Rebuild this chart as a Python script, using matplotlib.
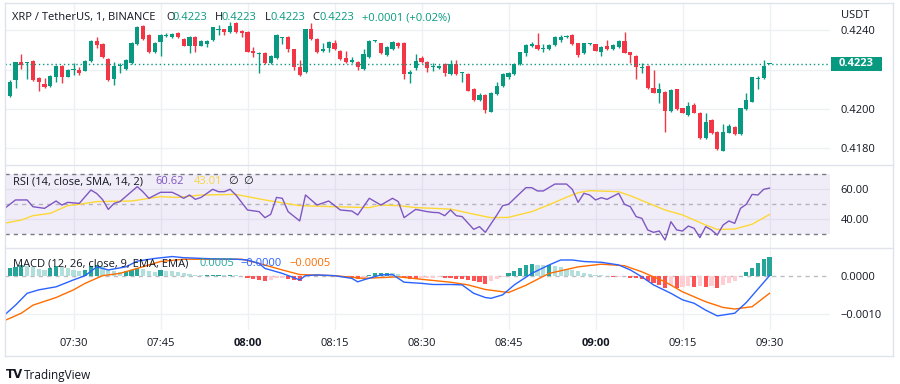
import numpy as np
import matplotlib
matplotlib.use('Agg')
import matplotlib.pyplot as plt
from matplotlib.patches import Rectangle
from matplotlib.transforms import blended_transform_factory
from matplotlib.ticker import FuncFormatter

plt.rcParams['font.family'] = ['Open Sans', 'DejaVu Sans']

# ---------------- data ----------------
first_bar = '07:18'
opens = [0.42129, 0.42064, 0.42146, 0.42237, 0.42232, 0.42245, 0.42158, 0.42126, 0.42115, 0.42163,
         0.42218, 0.42163, 0.42196, 0.42197, 0.42194, 0.42245, 0.42346, 0.42331, 0.42255, 0.42151,
         0.42216, 0.42204, 0.42235, 0.42331, 0.42423, 0.42377, 0.42291, 0.42343, 0.42374, 0.42365,
         0.42385, 0.42356, 0.42322, 0.42365, 0.42322, 0.42331, 0.42351, 0.42402, 0.42406, 0.42391,
         0.42437, 0.42397, 0.42394, 0.42295, 0.42282, 0.42286, 0.42235, 0.42257, 0.42363, 0.42365,
         0.42303, 0.42215, 0.42185, 0.42406, 0.42355, 0.42295, 0.42309, 0.42334, 0.42297, 0.42257,
         0.42240, 0.42240, 0.42201, 0.42266, 0.42346, 0.42334, 0.42274, 0.42305, 0.42338, 0.42338,
         0.42175, 0.42206, 0.42257, 0.42240, 0.42215, 0.42206, 0.42228, 0.42175, 0.42228, 0.42184,
         0.42177, 0.42100, 0.42044, 0.42069, 0.41984, 0.42074, 0.42115, 0.42163, 0.42175, 0.42228,
         0.42283, 0.42322, 0.42326, 0.42303, 0.42303, 0.42326, 0.42351, 0.42369, 0.42377, 0.42334,
         0.42283, 0.42330, 0.42329, 0.42291, 0.42320, 0.42305, 0.42314, 0.42348, 0.42288, 0.42269,
         0.42208, 0.42218, 0.42107, 0.42078, 0.42086, 0.41987, 0.42098, 0.42001, 0.41967, 0.42018,
         0.41979, 0.41847, 0.41941, 0.41881, 0.41782, 0.41876, 0.41907, 0.41869, 0.41996, 0.42035,
         0.42150, 0.42155, 0.42230]
highs = [0.42135, 0.42145, 0.42240, 0.42278, 0.42240, 0.42248, 0.42160, 0.42155, 0.42170, 0.42225,
         0.42225, 0.42205, 0.42232, 0.42215, 0.42250, 0.42350, 0.42365, 0.42335, 0.42260, 0.42237,
         0.42235, 0.42255, 0.42340, 0.42423, 0.42430, 0.42380, 0.42340, 0.42380, 0.42385, 0.42385,
         0.42390, 0.42360, 0.42370, 0.42370, 0.42350, 0.42350, 0.42420, 0.42428, 0.42410, 0.42445,
         0.42445, 0.42400, 0.42398, 0.42317, 0.42290, 0.42290, 0.42272, 0.42380, 0.42368, 0.42370,
         0.42306, 0.42249, 0.42410, 0.42437, 0.42360, 0.42334, 0.42346, 0.42351, 0.42300, 0.42297,
         0.42266, 0.42245, 0.42303, 0.42352, 0.42350, 0.42338, 0.42320, 0.42346, 0.42340, 0.42342,
         0.42195, 0.42278, 0.42269, 0.42245, 0.42232, 0.42222, 0.42232, 0.42249, 0.42249, 0.42189,
         0.42180, 0.42103, 0.42081, 0.42072, 0.42085, 0.42138, 0.42180, 0.42189, 0.42232, 0.42292,
         0.42330, 0.42343, 0.42385, 0.42331, 0.42330, 0.42370, 0.42377, 0.42377, 0.42380, 0.42338,
         0.42338, 0.42336, 0.42332, 0.42320, 0.42351, 0.42330, 0.42352, 0.42394, 0.42292, 0.42272,
         0.42232, 0.42222, 0.42197, 0.42129, 0.42090, 0.42098, 0.42102, 0.42005, 0.42035, 0.42026,
         0.41982, 0.41975, 0.41945, 0.41885, 0.41921, 0.41921, 0.41910, 0.42004, 0.42081, 0.42163,
         0.42167, 0.42249, 0.42230]
lows = [0.42060, 0.42060, 0.42103, 0.42201, 0.42151, 0.42141, 0.42090, 0.42103, 0.42110, 0.42134,
        0.42129, 0.42160, 0.42172, 0.42172, 0.42190, 0.42240, 0.42308, 0.42260, 0.42140, 0.42119,
        0.42180, 0.42200, 0.42230, 0.42325, 0.42350, 0.42285, 0.42285, 0.42269, 0.42368, 0.42360,
        0.42360, 0.42318, 0.42286, 0.42288, 0.42320, 0.42317, 0.42348, 0.42377, 0.42377, 0.42388,
        0.42388, 0.42368, 0.42288, 0.42266, 0.42180, 0.42228, 0.42230, 0.42253, 0.42331, 0.42288,
        0.42197, 0.42168, 0.42180, 0.42350, 0.42283, 0.42290, 0.42288, 0.42300, 0.42250, 0.42232,
        0.42235, 0.42197, 0.42198, 0.42260, 0.42340, 0.42280, 0.42270, 0.42300, 0.42308, 0.42150,
        0.42129, 0.42200, 0.42232, 0.42189, 0.42192, 0.42202, 0.42168, 0.42170, 0.42170, 0.42137,
        0.42088, 0.42040, 0.42040, 0.41979, 0.41980, 0.42070, 0.42110, 0.42150, 0.42170, 0.42225,
        0.42269, 0.42317, 0.42300, 0.42291, 0.42300, 0.42323, 0.42343, 0.42363, 0.42328, 0.42266,
        0.42280, 0.42326, 0.42293, 0.42269, 0.42302, 0.42302, 0.42310, 0.42283, 0.42232, 0.42150,
        0.42180, 0.42100, 0.42078, 0.42030, 0.41881, 0.41984, 0.41992, 0.41975, 0.41964, 0.41975,
        0.41844, 0.41844, 0.41870, 0.41788, 0.41780, 0.41873, 0.41865, 0.41866, 0.41993, 0.42032,
        0.42098, 0.42152, 0.42230]
closes = [0.42064, 0.42138, 0.42237, 0.42223, 0.42233, 0.42144, 0.42134, 0.42112, 0.42167, 0.42218,
          0.42163, 0.42197, 0.42198, 0.42184, 0.42245, 0.42346, 0.42324, 0.42264, 0.42146, 0.42218,
          0.42218, 0.42249, 0.42334, 0.42416, 0.42355, 0.42291, 0.42334, 0.42377, 0.42376, 0.42380,
          0.42365, 0.42322, 0.42365, 0.42322, 0.42346, 0.42346, 0.42416, 0.42404, 0.42391, 0.42425,
          0.42391, 0.42385, 0.42291, 0.42283, 0.42284, 0.42232, 0.42269, 0.42377, 0.42365, 0.42303,
          0.42215, 0.42172, 0.42406, 0.42355, 0.42291, 0.42305, 0.42343, 0.42303, 0.42254, 0.42240,
          0.42249, 0.42215, 0.42278, 0.42348, 0.42348, 0.42283, 0.42317, 0.42343, 0.42322, 0.42177,
          0.42189, 0.42245, 0.42240, 0.42206, 0.42217, 0.42218, 0.42180, 0.42228, 0.42175, 0.42186,
          0.42091, 0.42044, 0.42069, 0.41992, 0.42081, 0.42117, 0.42177, 0.42180, 0.42228, 0.42288,
          0.42326, 0.42331, 0.42303, 0.42310, 0.42326, 0.42365, 0.42365, 0.42371, 0.42331, 0.42274,
          0.42334, 0.42332, 0.42297, 0.42317, 0.42305, 0.42326, 0.42348, 0.42286, 0.42274, 0.42215,
          0.42210, 0.42103, 0.42081, 0.42098, 0.41987, 0.42095, 0.41996, 0.41979, 0.42013, 0.41979,
          0.41847, 0.41932, 0.41873, 0.41792, 0.41881, 0.41910, 0.41868, 0.42001, 0.42044, 0.42160,
          0.42156, 0.42220, 0.42230]

# RSI (bar offset from 07:19, value)
rsi_k = [-1, 1, 3, 4, 6, 8, 9, 10, 12, 14, 15, 16, 17, 18, 19, 22, 23, 24, 26, 28,
         29, 30, 31, 32, 33, 35, 36, 37, 38, 39, 41, 43, 44, 45, 46, 47, 48, 50, 51, 53,
         55, 57, 59, 60, 62, 64, 66, 67, 68, 70, 72, 73, 74, 75, 76, 77, 78, 80, 81, 82,
         84, 85, 86, 89, 90, 91, 92, 94, 96, 97, 98, 99, 100, 101, 102, 103, 105, 106, 107, 108,
         109, 110, 111, 112, 113, 114, 115, 116, 117, 118, 119, 120, 121, 122, 123, 124, 125, 126, 127, 128,
         129, 130, 131]
rsi_vals = [46.7, 52.7, 52.7, 48.2, 47.1, 52.0, 49.3, 51.1, 50.4, 59.3, 57.0, 53.0, 46.4, 50.4, 51.6, 61.6, 58.0, 53.8, 57.8, 57.8,
            56.0, 53.8, 56.0, 53.1, 54.4, 59.8, 58.2, 58.2, 59.8, 56.0, 46.0, 44.9, 40.9, 43.1, 54.4, 53.8, 44.9, 38.7, 56.0, 49.3,
            52.0, 46.0, 45.3, 42.7, 53.8, 49.3, 53.8, 51.6, 40.9, 46.4, 44.9, 44.4, 44.2, 42.2, 46.0, 42.2, 41.6, 33.1, 34.9, 31.1,
            42.7, 48.9, 49.8, 60.9, 60.9, 58.7, 58.7, 63.3, 63.3, 59.8, 51.1, 57.1, 56.0, 52.7, 54.2, 53.1, 57.1, 49.8, 48.2, 41.6,
            40.4, 32.7, 31.1, 32.0, 26.0, 38.2, 32.7, 32.0, 35.3, 33.8, 27.6, 34.9, 32.7, 29.3, 36.0, 38.7, 37.1, 47.1, 49.8, 56.4,
            56.0, 59.8, 60.6]
rsi_ma_k = [-1, 2, 4, 7, 10, 12, 15, 21, 26, 29, 33, 39, 41, 44, 50, 56, 62, 64, 67, 70,
            76, 78, 82, 83, 86, 90, 93, 96, 98, 100, 105, 107, 113, 116, 120, 122, 125, 128, 131]
rsi_ma_vals = [37.1, 39.3, 42.2, 43.8, 48.9, 49.8, 51.6, 52.0, 54.9, 54.4, 56.0, 56.4, 54.9, 52.7, 48.9, 48.2, 47.6, 49.3, 48.9, 47.6,
               46.6, 44.9, 41.6, 40.9, 41.1, 44.9, 49.5, 54.5, 57.5, 58.9, 58.2, 55.5, 46.0, 42.7, 36.0, 33.0, 33.3, 36.5, 43.0]

# MACD (units of 0.0001)
macd_k = [-1, 1, 3, 5, 8, 11, 13, 15, 17, 20, 22, 25, 28, 30, 35, 39, 41, 43, 44, 47,
          50, 51, 53, 56, 59, 60, 61, 64, 66, 68, 71, 73, 76, 78, 80, 82, 83, 85, 87, 90,
          93, 95, 97, 99, 102, 105, 107, 109, 111, 114, 116, 118, 120, 122, 125, 127, 129, 131]
macd_vals = [-10.4, -7.7, -4.6, -3.7, -2.9, -1.1, 0.0, 2.3, 1.5, 2.3, 3.8, 4.5, 5.0, 4.7, 4.4, 4.3, 4.1, 3.2, 1.9, 0.6,
             -1.1, 0.0, 0.2, 0.0, -0.7, -1.6, -1.1, 0.2, 0.3, -1.7, -2.0, -2.3, -2.3, -2.4, -4.6, -5.7, -5.9, -5.0, -2.4, 0.6,
             2.8, 4.1, 4.1, 3.7, 3.5, 2.8, 1.5, -0.3, -2.4, -4.6, -6.3, -7.2, -9.0, -10.5, -9.8, -7.0, -3.5, 0.0]
signal_k = [-1, 2, 4, 8, 11, 13, 16, 19, 22, 26, 30, 36, 40, 43, 47, 50, 56, 61, 67, 72,
            76, 79, 82, 86, 89, 93, 98, 102, 106, 109, 113, 116, 120, 123, 125, 128, 131]
signal_vals = [-11.8, -9.8, -7.7, -5.7, -3.7, -2.0, 0.0, 0.6, 1.9, 3.7, 4.3, 4.3, 4.3, 3.2, 1.5, 0.3, 0.0, -0.7, -0.3, -1.1,
               -1.7, -2.4, -3.6, -4.4, -2.5, 0.6, 2.3, 3.0, 2.6, 1.0, -1.6, -4.2, -6.8, -8.3, -8.7, -8.1, -4.6]
hist_vals = [1.8, 1.9, 2.2, 2.8, 2.6, 2.2, 1.8, 1.6, 1.9, 2.4,
             2.2, 2.0, 1.6, 1.3, 1.6, 2.4, 2.8, 2.4, 1.5, 1.2,
             1.0, 1.1, 1.6, 1.9, 1.7, 1.2, 1.0, 1.4, 1.3, 1.1,
             0.9, 0.6, 0.5, 0.3, 0.2, 0.2, 0.3, 0.3, 0.2, 0.3,
             0.1, -0.2, -0.6, -0.9, -1.1, -1.5, -1.2, -0.6, -0.6, -0.9,
             -1.2, -1.5, -0.4, -0.1, 0.1, 0.0, 0.1, 0.0, -0.2, -0.5,
             -0.7, -0.8, -0.5, 0.3, 0.6, 0.7, 0.8, 0.6, 0.4, -0.6,
             -0.8, -0.9, -0.7, -0.6, -0.5, -0.4, -0.6, -0.7, -0.8, -0.9,
             -1.1, -1.4, -1.6, -2.2, -1.4, -0.9, -0.3, 0.6, 1.2, 2.0,
             2.7, 3.1, 2.9, 2.7, 2.9, 2.6, 2.2, 1.8, 1.4, 1.1,
             0.8, 0.5, 0.3, 0.1, -0.1, -0.3, -0.3, -0.1, -0.5, -0.6,
             -0.9, -1.5, -2.0, -2.5, -3.2, -2.5, -3.3, -2.9, -2.8, -2.9,
             -2.8, -3.0, -2.8, -3.1, -2.5, -2.0, -1.5, -0.2, 1.0, 2.1,
             3.4, 4.3, 5.0]

time_labels = ['07:30', '07:45', '08:00', '08:15', '08:30', '08:45', '09:00', '09:15', '09:30']
price_ticks = [0.4180, 0.4200, 0.4220, 0.4240]
rsi_ticks = [40, 60]
macd_ticks = [-0.0010, 0.0000]
last_price = 0.4223

# ---------------- helpers ----------------
W, H = 900, 384
GREEN, RED = '#089981', '#f23645'
TXT = '#131722'
GRID = '#eef0f3'
fig = plt.figure(figsize=(W / 100, H / 100), dpi=100)
fig.patch.set_facecolor('white')


def to_k(s):
    h, m = map(int, s.split(':'))
    return h * 60 + m - (7 * 60 + 19)


def pane(y0, y1):
    ax = fig.add_axes([5 / W, 1 - y1 / H, 825 / W, (y1 - y0) / H])
    ax.set_facecolor('none')
    for s in ax.spines.values():
        s.set_visible(False)
    ax.set_xlim((5 - 9.7) / 5.8, (830 - 9.7) / 5.8)
    ax.yaxis.tick_right()
    ax.tick_params(axis='y', length=0, pad=7.5, labelsize=8, labelcolor=TXT)
    ax.tick_params(axis='x', length=0, labelbottom=False)
    return ax


def ftext(x, y, s, **kw):
    kw.setdefault('fontsize', 8)
    kw.setdefault('va', 'center')
    return fig.text(x / W, 1 - y / H, s, **kw)


kk = np.arange(len(opens)) + to_k(first_bar)
tick_k = [to_k(t) for t in time_labels]

# ---------------- price pane ----------------
axp = pane(3, 165)
axp.set_ylim(0.417103, 0.425410)
axp.set_yticks(price_ticks)
# the 0.4220 label sits under the last-price marker, as in the reference
axp.yaxis.set_major_formatter(FuncFormatter(
    lambda v, p: '' if abs(v - last_price) < 0.0004 else f'{v:.4f}'))
for t in tick_k:
    axp.axvline(t, color=GRID, lw=1, zorder=0)
for v in price_ticks:
    axp.axhline(v, color=GRID, lw=1, zorder=0)

o = np.array(opens); c = np.array(closes); hi = np.array(highs); lo = np.array(lows)
cols = np.where(c >= o, GREEN, RED)
axp.vlines(kk, lo, hi, colors=cols, lw=1, zorder=2)
body_bot = np.minimum(o, c)
body_h = np.maximum(np.abs(c - o), 0.00005)
axp.bar(kk, body_h, bottom=body_bot, width=0.75, color=cols, lw=0, zorder=3)

axp.axhline(last_price, color=GREEN, lw=1, ls=(0, (1, 2)), zorder=4)
tr = blended_transform_factory(axp.transAxes, axp.transData)
axp.add_patch(Rectangle((826 / 825, last_price - 0.000365), 51 / 825, 0.00073,
                        transform=tr, clip_on=False, fc=GREEN, ec='none', zorder=10))
axp.text(851.5 / 825, last_price, f'{last_price:.4f}', transform=tr, ha='center', va='center',
         color='white', fontsize=8, fontweight='bold', clip_on=False, zorder=11)

# ---------------- RSI pane ----------------
axr = pane(165, 247)
axr.set_ylim(21.33, 76.0)
axr.set_yticks(rsi_ticks)
axr.yaxis.set_major_formatter(FuncFormatter(lambda v, p: f'{v:.2f}'))
for t in tick_k:
    axr.axvline(t, color=GRID, lw=1, zorder=0)
for v in rsi_ticks:
    axr.axhline(v, color=GRID, lw=1, zorder=0)
axr.axhspan(30, 70, color='#7e57c2', alpha=0.1, lw=0, zorder=0.5)
axr.axhline(70, color='#787b86', lw=1, ls=(0, (3, 3)), zorder=1)
axr.axhline(30, color='#787b86', lw=1, ls=(0, (3, 3)), zorder=1)
axr.axhline(50, color='#787b86', lw=1, ls=(0, (3, 3)), alpha=0.5, zorder=1)
axr.plot(rsi_ma_k, rsi_ma_vals, color='#fdd835', lw=1, zorder=2)
axr.plot(rsi_k, rsi_vals, color='#7e57c2', lw=1, zorder=3)

# ---------------- MACD pane ----------------
axm = pane(247, 330)
axm.set_ylim(-0.001418, 0.000749)
axm.set_yticks(macd_ticks)
axm.yaxis.set_major_formatter(FuncFormatter(
    lambda v, p: f'{v:.4f}'.replace('-', '\u2212') if abs(v) > 1e-9 else '0.0000'))
for t in tick_k:
    axm.axvline(t, color=GRID, lw=1, zorder=0)
axm.axhline(-0.0010, color=GRID, lw=1, zorder=0)
axm.axhline(0, color='#787b86', lw=1, ls=(0, (3, 3)), alpha=0.5, zorder=1)
hv = np.array(hist_vals) * 1e-4
prev = np.concatenate([[hv[0]], hv[:-1]])
hcols = []
for h, pv in zip(hv, prev):
    if h >= 0:
        hcols.append('#26a69a' if h >= pv else '#b2dfdb')
    else:
        hcols.append('#ff5252' if h < pv else '#ffcdd2')
axm.bar(kk, hv, width=0.7, color=hcols, lw=0, zorder=2)
axm.plot(signal_k, np.array(signal_vals) * 1e-4, color='#ff6d00', lw=1, zorder=3)
axm.plot(macd_k, np.array(macd_vals) * 1e-4, color='#2962ff', lw=1, zorder=4)

axm.set_xticks(tick_k)
axm.set_xticklabels(time_labels)
axm.tick_params(axis='x', labelbottom=True, pad=5.5, labelsize=8, labelcolor=TXT)
for lab in axm.get_xticklabels():
    if lab.get_text().endswith(':00'):
        lab.set_fontweight('bold')

# ---------------- frame / separators ----------------
def hline_px(y, x0=4.5, x1=893, color='#e0e3eb'):
    fig.add_artist(plt.Line2D([x0 / W, x1 / W], [1 - y / H, 1 - y / H], color=color, lw=1))

def vline_px(x, y0, y1, color='#e0e3eb'):
    fig.add_artist(plt.Line2D([x / W, x / W], [1 - y0 / H, 1 - y1 / H], color=color, lw=1))

hline_px(2.5)
hline_px(165.5)
hline_px(247.5)
hline_px(356)
vline_px(4.5, 2.5, 356)
vline_px(893, 2.5, 356)

# ---------------- legends ----------------
ftext(12.5, 17.5, 'XRP / TetherUS, 1, BINANCE', color=TXT)
for lx, lab in [(166, 'O'), (215, 'H'), (265, 'L'), (312.5, 'C')]:
    ftext(lx, 17.5, lab, color=TXT)
    ftext(lx + 6.8 if lab != 'L' else lx + 5.5, 17.5, f'{last_price:.4f}', color=GREEN)
ftext(362, 17.5, '+0.0001 (+0.02%)', color=GREEN)
ftext(841, 15.5, 'USDT', color=TXT)

ftext(13, 181.5, 'RSI (14, close, SMA, 14, 2)', color=TXT)
ftext(155.5, 181.5, '60.62', color='#7e57c2')
ftext(194, 181.5, '43.01', color='#f5d742')
ftext(228, 181.5, '\u2205', color=TXT, family=['DejaVu Sans'])
ftext(243, 181.5, '\u2205', color=TXT, family=['DejaVu Sans'])

ftext(13, 264, 'MACD (12, 26, close, 9, EMA, EMA)', color=TXT)
ftext(199, 264, '0.0005', color='#26a69a')
ftext(240.5, 264, '\u22120.0000', color='#2962ff')
ftext(289, 264, '\u22120.0005', color='#ff6d00')

# TradingView logo
ftext(6, 375, 'TV', color=TXT, fontweight='heavy', fontsize=8.5, family=['DejaVu Sans'])
ftext(24, 375, 'TradingView', color=TXT, fontsize=8.5)

fig.savefig('out.png', dpi=100, facecolor='white')
